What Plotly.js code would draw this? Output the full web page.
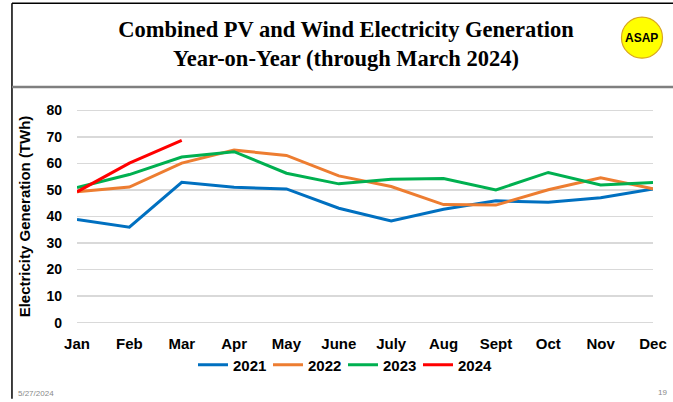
<!DOCTYPE html>
<html>
<head>
<meta charset="utf-8">
<script src="https://cdn.plot.ly/plotly-3.0.1.min.js"></script>
<style>
  html, body { margin: 0; padding: 0; background: #ffffff; }
  #chart { width: 673px; height: 402px; }
</style>
</head>
<body>
<div id="chart"></div>
<script>
// ---- Data ----
var months = ['Jan', 'Feb', 'Mar', 'Apr', 'May', 'June', 'July', 'Aug', 'Sept', 'Oct', 'Nov', 'Dec'];
var seriesNames = ['2021', '2022', '2023', '2024'];
var gen2021 = [38.9, 36.0, 52.9, 51.0, 50.4, 43.1, 38.3, 42.7, 45.9, 45.4, 47.1, 50.4];
var gen2022 = [49.3, 51.1, 60.1, 65.0, 63.0, 55.3, 51.3, 44.5, 44.3, 50.1, 54.6, 50.4];
var gen2023 = [50.9, 55.8, 62.4, 64.4, 56.3, 52.3, 54.0, 54.3, 50.0, 56.6, 51.9, 52.8];
var gen2024 = [49.3, 60.1, 68.7];
var yTicks = [0, 10, 20, 30, 40, 50, 60, 70, 80];

var colors = ['#0070C0', '#ED7D31', '#00B050', '#FF0000'];
var values = [gen2021, gen2022, gen2023, gen2024];

// ---- Geometry (pixels) ----
var W = 673, H = 402;
var mL = 77, mR = 20.3, mT = 109.4, mB = 78.4;
var plotW = W - mL - mR, plotH = H - mT - mB;
function px(x) { return (x - mL) / plotW; }
function py(y) { return (H - mB - y) / plotH; }

var traces = values.map(function (v, i) {
  return {
    type: 'scatter',
    mode: 'lines',
    name: seriesNames[i],
    x: months.slice(0, v.length),
    y: v,
    line: { color: colors[i], width: 3 },
    hoverinfo: 'x+y+name'
  };
});

var axisFont = { family: 'Liberation Sans, Arial, sans-serif', size: 15, color: '#000000', weight: 'bold' };

var layout = {
  width: W, height: H,
  margin: { l: mL, r: mR, t: mT, b: mB, pad: 0 },
  paper_bgcolor: '#ffffff',
  plot_bgcolor: '#ffffff',
  showlegend: true,
  title: {
    text: 'Combined PV and Wind Electricity Generation<br>Year-on-Year (through March 2024)',
    font: { family: 'Liberation Serif, Times New Roman, serif', size: 22.5, color: '#000000', weight: 'bold' },
    xref: 'container', yref: 'container',
    x: 346 / W, xanchor: 'center',
    y: 1 - 36.5 / H, yanchor: 'middle'
  },
  xaxis: {
    type: 'category',
    categoryorder: 'array',
    categoryarray: months,
    range: [0, months.length - 1],
    showgrid: false,
    zeroline: false,
    showline: false,
    ticks: '',
    tickfont: axisFont,
    ticklabelstandoff: 9,
    fixedrange: true
  },
  yaxis: {
    range: [-0.5, 80.5],
    tickvals: yTicks,
    ticktext: yTicks.map(String),
    showgrid: true,
    gridcolor: '#D9D9D9',
    gridwidth: 1.3,
    zeroline: false,
    showline: false,
    ticks: '',
    tickfont: { family: 'Liberation Sans, Arial, sans-serif', size: 14, color: '#000000', weight: 'bold' },
    ticklabelstandoff: 14,
    title: {
      text: 'Electricity Generation (TWh)',
      font: axisFont,
      standoff: 12
    },
    fixedrange: true
  },
  legend: {
    orientation: 'h',
    xref: 'container', yref: 'container',
    x: 343 / W, xanchor: 'center',
    y: 1 - 365 / H, yanchor: 'middle',
    font: axisFont,
    bgcolor: 'rgba(0,0,0,0)',
    itemwidth: 30,
    entrywidth: 30,
    entrywidthmode: 'pixels',
    tracegroupgap: 0
  },
  shapes: [
    // slide frame: top line, left line, separator under the title
    { type: 'line', xref: 'paper', yref: 'paper', x0: px(12), x1: px(673), y0: py(4), y1: py(4),
      line: { color: '#000000', width: 1.5 } },
    { type: 'line', xref: 'paper', yref: 'paper', x0: px(12), x1: px(12), y0: py(4), y1: py(398),
      line: { color: '#000000', width: 1.5 } },
    { type: 'line', xref: 'paper', yref: 'paper', x0: px(12), x1: px(673), y0: py(87.5), y1: py(87.5),
      line: { color: '#7F7F7F', width: 2.5 } },
    // ASAP logo disc
    { type: 'circle', xref: 'paper', yref: 'paper',
      x0: px(641.7 - 20.5), x1: px(641.7 + 20.5), y0: py(38.3 + 20.5), y1: py(38.3 - 20.5),
      fillcolor: '#FFFF00', line: { color: '#D9A520', width: 1.2 } }
  ],
  annotations: [
    { text: 'ASAP', xref: 'paper', yref: 'paper', x: px(641.7), y: py(38.3), xanchor: 'center', yanchor: 'middle',
      showarrow: false, font: { family: 'Liberation Sans, Arial, sans-serif', size: 12, color: '#000000', weight: 'bold' } },
    { text: '5/27/2024', xref: 'paper', yref: 'paper', x: px(16), y: py(393), xanchor: 'left', yanchor: 'middle',
      showarrow: false, font: { family: 'Liberation Sans, Arial, sans-serif', size: 8, color: '#898989' } },
    { text: '19', xref: 'paper', yref: 'paper', x: px(669), y: py(392), xanchor: 'right', yanchor: 'middle',
      showarrow: false, font: { family: 'Liberation Sans, Arial, sans-serif', size: 8, color: '#898989' } }
  ]
};

Plotly.newPlot('chart', traces, layout, { displayModeBar: false, staticPlot: true });
</script>
</body>
</html>
